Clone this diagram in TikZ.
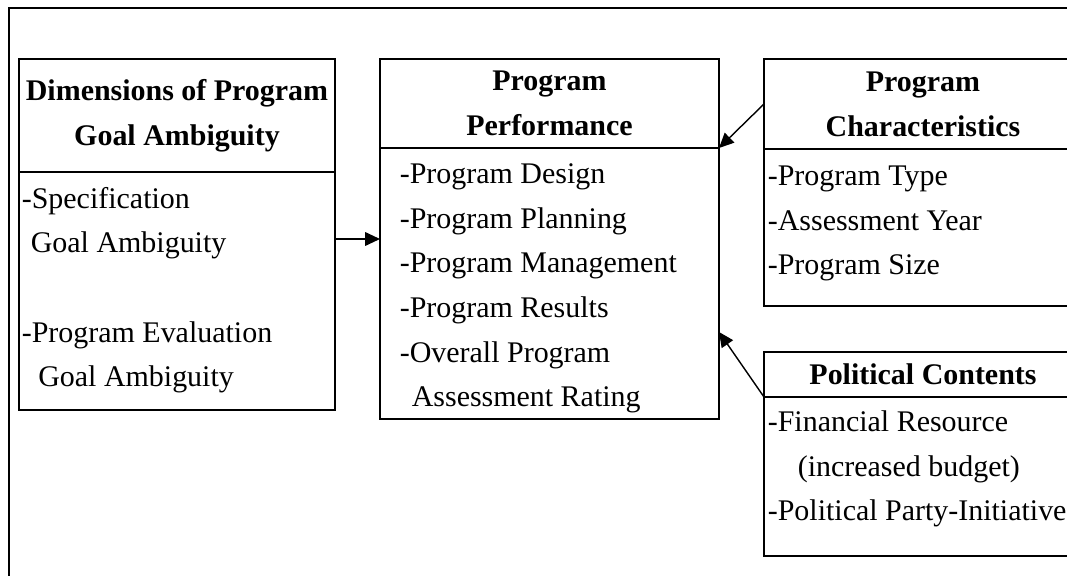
\documentclass[tikz,border=0pt]{standalone}
\usepackage{fontspec}
\setmainfont{Liberation Serif}
\usetikzlibrary{positioning,arrows.meta}

\newcommand{\bx}{0.025cm}
\newcommand{\boxfont}{\fontsize{21.3pt}{31.8pt}\selectfont}

\begin{document}
\begin{tikzpicture}[x=0.025cm, y=-0.025cm, line width=1.2pt,
    head/.style={draw, outer sep=0pt, inner sep=0pt, align=center, font=\boxfont\bfseries},
    frame/.style={draw, outer sep=0pt, inner sep=0pt},
    list/.style={inner sep=0pt, align=left, anchor=base west, font=\boxfont},
    link/.style={line width=1pt, -{Triangle[length=0.37cm, width=0.34cm]}}]

\useasboundingbox (0,0) rectangle (1067,576);
\clip (0,0) rectangle (1067,576);

% outer frame, runs off to the right and bottom
\draw (9,8) rectangle (1100,620);

% goal ambiguity (list nodes sit on their last baseline)
\node[head, anchor=north west, minimum width=316*\bx, minimum height=113*\bx] (ambHead) at (19,59) {Dimensions of Program\\Goal Ambiguity};
\node[frame, below=0pt of ambHead, minimum width=316*\bx, minimum height=238*\bx] (ambBody) {};
\node[list] (ambList) at (21,387) {-Specification\\\hspace*{0.3em}Goal Ambiguity\\[31.8pt]-Program Evaluation\\\hspace*{0.55em}Goal Ambiguity};

% performance
\node[head, anchor=north west, minimum width=339*\bx, minimum height=89*\bx] (perfHead) at (380,59) {Program\\Performance};
\node[frame, below=0pt of perfHead, minimum width=339*\bx, minimum height=271*\bx] (perfBody) {};
\node[list] (perfList) at (399,407) {-Program Design\\-Program Planning\\-Program Management\\-Program Results\\-Overall Program\\\hspace*{0.4em}Assessment Rating};

% characteristics
\node[head, anchor=north west, minimum width=318*\bx, minimum height=90*\bx] (charHead) at (764,59) {Program\\Characteristics};
\node[frame, below=0pt of charHead, minimum width=318*\bx, minimum height=157*\bx] (charBody) {};
\node[list] (charList) at (767,275) {-Program Type\\-Assessment Year\\-Program Size};

% political contents
\node[head, anchor=north west, minimum width=318*\bx, minimum height=45*\bx] (polHead) at (764,352) {Political Contents};
\node[frame, below=0pt of polHead, minimum width=318*\bx, minimum height=159*\bx] (polBody) {};
\node[list] (polList) at (767,521) {-Financial Resource\\\hspace*{1em}(increased budget)\\-Political Party-Initiative};

% arrows into performance
\coordinate (ambOut) at (ambBody.north east |- 0,239);
\draw[link] (ambOut) -- (ambOut -| perfBody.west);
\draw[link] (charHead.west) -- (perfHead.south east);
\draw[link] (polHead.south west) -- (perfBody.east |- 0,332);

\end{tikzpicture}
\end{document}
